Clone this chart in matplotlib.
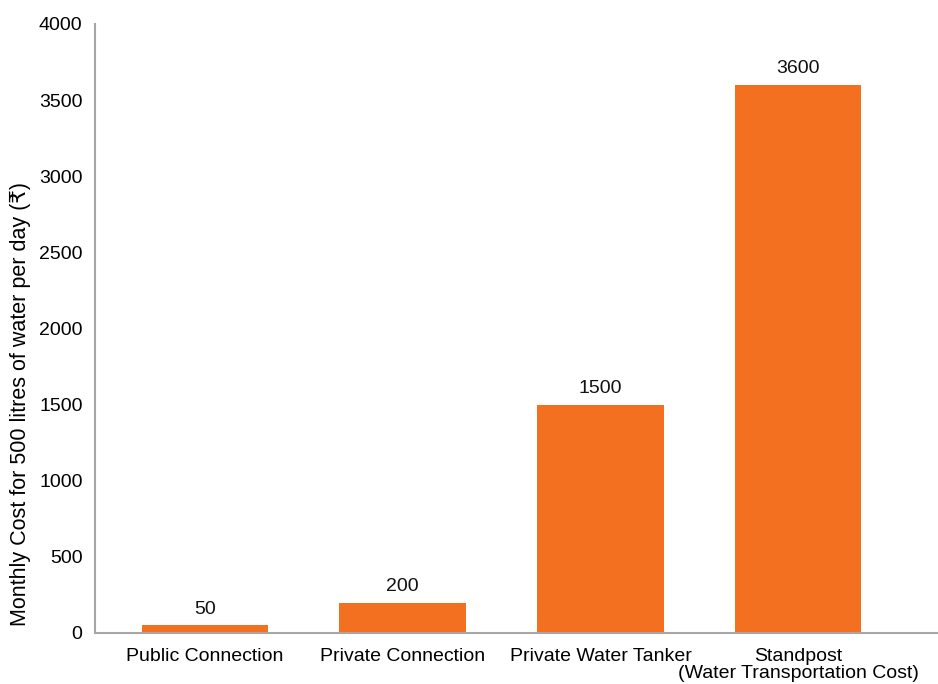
import numpy as np
import matplotlib.pyplot as plt

plt.rcParams['font.family'] = ['Liberation Sans', 'DejaVu Sans']

# Данные
categories = ['Public Connection', 'Private Connection', 'Private Water Tanker',
              'Standpost\n(Water Transportation Cost)']
costs = [50, 200, 1500, 3600]

fig = plt.figure(figsize=(9.38, 6.84), dpi=100)
ax = fig.add_axes([0.1013, 0.0746, 0.8987, 0.8904])

x = np.arange(len(categories))
bars = ax.bar(x, costs, width=0.64, color='#F37021')

# Подписи значений
for b, v in zip(bars, costs):
    ax.text(b.get_x() + b.get_width() / 2, v + 50, str(v),
            ha='center', va='bottom', fontsize=14, color='#111111')

ax.set_xlim(-0.556, 3.707)
ax.set_ylim(0, 4000)
ax.set_yticks(np.arange(0, 4001, 500))
ax.set_xticks(x)
ax.set_xticklabels(categories, fontsize=14, linespacing=1.05)
ax.tick_params(axis='y', labelsize=14, length=0, pad=9)
ax.tick_params(axis='x', length=0, pad=10.5)

for s in ['top', 'right']:
    ax.spines[s].set_visible(False)
for s in ['left', 'bottom']:
    ax.spines[s].set_color('#a6a6a6')
    ax.spines[s].set_linewidth(1.5)

ax.set_ylabel('Monthly Cost for 500 litres of water per day (₹)', fontsize=15.5)
ax.yaxis.set_label_coords(-0.076, 0.376)

fig.savefig('out.png', dpi=100)
